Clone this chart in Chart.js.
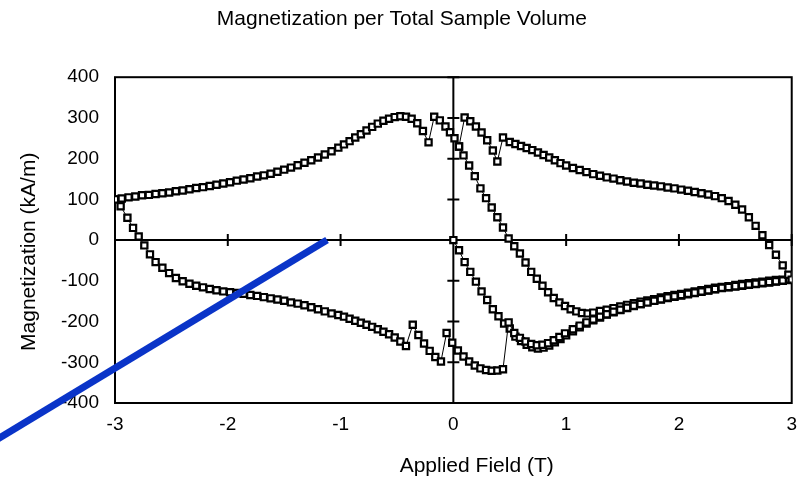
<!DOCTYPE html>
<html>
<head>
<meta charset="utf-8">
<script src="https://cdn.jsdelivr.net/npm/chart.js@4.4.1/dist/chart.umd.min.js"></script>
<style>
  html, body { margin: 0; padding: 0; background: #fff; }
  #wrap { width: 807px; height: 479px; }
</style>
</head>
<body>
<div id="wrap"><canvas id="c" width="807" height="479"></canvas></div>
<script>
// ---- Data (Applied Field in T, Magnetization in kA/m) ----
const upperBranch = [[-3.00,100],[-2.94,102],[-2.88,105],[-2.82,107],[-2.76,110],[-2.70,111],[-2.64,113],[-2.58,115],[-2.52,117],[-2.46,120],[-2.40,122],[-2.34,125],[-2.28,128],[-2.22,130],[-2.16,133],[-2.10,136],[-2.04,139],[-1.98,142],[-1.92,146],[-1.86,149],[-1.80,152],[-1.74,156],[-1.68,159],[-1.62,163],[-1.56,168],[-1.50,173],[-1.44,178],[-1.38,184],[-1.32,190],[-1.26,196],[-1.20,203],[-1.14,210],[-1.08,218],[-1.02,227],[-0.97,235],[-0.92,243],[-0.87,252],[-0.82,260],[-0.77,269],[-0.72,278],[-0.67,286],[-0.62,293],[-0.57,298],[-0.52,302],[-0.47,304],[-0.42,303],[-0.37,298],[-0.32,287],[-0.27,268],[-0.22,240],[-0.17,303],[-0.12,294],[-0.07,279],[-0.03,265],[0.01,250],[0.05,230],[0.10,301],[0.15,292],[0.20,279],[0.25,264],[0.30,245],[0.35,220],[0.39,193],[0.44,252],[0.50,241],[0.55,236],[0.60,231],[0.65,226],[0.70,221],[0.75,215],[0.80,209],[0.85,203],[0.90,196],[0.95,189],[1.00,183],[1.06,177],[1.12,172],[1.18,167],[1.24,162],[1.30,158],[1.36,154],[1.42,151],[1.48,147],[1.54,144],[1.60,141],[1.66,139],[1.72,136],[1.78,134],[1.84,132],[1.90,129],[1.96,127],[2.02,124],[2.08,121],[2.14,118],[2.20,115],[2.26,112],[2.32,108],[2.38,103],[2.44,96],[2.50,87],[2.56,75],[2.62,56],[2.68,35],[2.74,12],[2.80,-12],[2.86,-36],[2.92,-62],[2.97,-85],[3.00,-97]];

const lowerBranch = [[-3.00,100],[-2.95,83],[-2.89,55],[-2.84,30],[-2.79,9],[-2.74,-13],[-2.69,-35],[-2.64,-54],[-2.58,-68],[-2.52,-81],[-2.46,-93],[-2.40,-101],[-2.34,-107],[-2.28,-112],[-2.22,-116],[-2.16,-120],[-2.10,-123],[-2.04,-126],[-1.98,-128],[-1.92,-130],[-1.86,-132],[-1.80,-135],[-1.74,-137],[-1.68,-140],[-1.62,-143],[-1.56,-146],[-1.50,-149],[-1.44,-153],[-1.38,-156],[-1.32,-160],[-1.26,-165],[-1.20,-170],[-1.14,-175],[-1.08,-180],[-1.02,-184],[-0.97,-188],[-0.92,-193],[-0.87,-198],[-0.82,-203],[-0.77,-208],[-0.72,-213],[-0.67,-219],[-0.62,-225],[-0.57,-231],[-0.52,-239],[-0.47,-249],[-0.42,-260],[-0.36,-208],[-0.31,-233],[-0.26,-254],[-0.21,-272],[-0.16,-287],[-0.11,-298],[-0.06,-228],[-0.01,-252],[0.04,-271],[0.09,-286],[0.14,-298],[0.19,-308],[0.24,-315],[0.29,-319],[0.34,-321],[0.39,-320],[0.44,-317],[0.49,-202],[0.54,-228],[0.59,-240],[0.64,-249],[0.69,-255],[0.74,-258],[0.79,-257],[0.84,-253],[0.89,-246],[0.94,-238],[0.99,-229],[1.06,-219],[1.12,-210],[1.18,-202],[1.24,-195],[1.30,-188],[1.36,-182],[1.42,-176],[1.48,-171],[1.54,-166],[1.60,-161],[1.66,-157],[1.72,-153],[1.78,-149],[1.84,-145],[1.90,-141],[1.96,-138],[2.02,-135],[2.08,-132],[2.14,-129],[2.20,-126],[2.26,-123],[2.32,-120],[2.38,-117],[2.44,-115],[2.50,-113],[2.56,-111],[2.62,-109],[2.68,-107],[2.74,-105],[2.80,-103],[2.86,-101],[2.92,-99],[2.98,-97]];

const initialCurve = [[0.00,0],[0.05,-25],[0.10,-54],[0.15,-78],[0.20,-102],[0.25,-126],[0.30,-147],[0.35,-170],[0.40,-187],[0.45,-205],[0.50,-217],[0.55,-237],[0.60,-248],[0.65,-257],[0.70,-263],[0.75,-266],[0.80,-264],[0.85,-259],[0.90,-251],[0.95,-243],[1.00,-234],[1.06,-224],[1.12,-214],[1.18,-205],[1.24,-197],[1.30,-190],[1.36,-183],[1.42,-177],[1.48,-172],[1.54,-167],[1.60,-162],[1.66,-157],[1.72,-153],[1.78,-149],[1.84,-146],[1.90,-142],[1.96,-139],[2.02,-136],[2.08,-133],[2.14,-130],[2.20,-127],[2.26,-124],[2.32,-121],[2.38,-118],[2.44,-116],[2.50,-114],[2.56,-112],[2.62,-110],[2.68,-108],[2.74,-106],[2.80,-104],[2.86,-102],[2.92,-100],[2.98,-98]];

const returnCurve = [[0.05,230],[0.09,208],[0.14,183],[0.19,157],[0.24,127],[0.29,103],[0.34,80],[0.39,56],[0.44,31],[0.49,4],[0.54,-15],[0.59,-33],[0.64,-55],[0.69,-78],[0.74,-95],[0.79,-112],[0.84,-128],[0.89,-142],[0.94,-153],[0.99,-162],[1.04,-170],[1.09,-175],[1.14,-179],[1.19,-180],[1.24,-178],[1.30,-174],[1.36,-171],[1.42,-167],[1.48,-163],[1.54,-159],[1.60,-155],[1.66,-151],[1.72,-148],[1.78,-145],[1.84,-141],[1.90,-138],[1.96,-135],[2.02,-132],[2.08,-129],[2.14,-126],[2.20,-123],[2.26,-120],[2.32,-117],[2.38,-115],[2.44,-113],[2.50,-110],[2.56,-108],[2.62,-106],[2.68,-104],[2.74,-102],[2.80,-100],[2.86,-98],[2.92,-97],[2.98,-95]];

const blueLine = [[-1.12,0],[-4.2,-515]];

const xTicks = [-3,-2,-1,0,1,2,3];
const yTicks = [-400,-300,-200,-100,0,100,200,300,400];

// ---- Helpers ----
const toXY = arr => arr.map(p => ({x: p[0], y: p[1]}));
const FONT = "'Liberation Sans', Arial, sans-serif";

function markerSet(data) {
  return {
    data: toXY(data),
    showLine: true,
    borderColor: '#000',
    borderWidth: 1,
    pointStyle: 'rect',
    pointRadius: 4.4,
    pointBorderWidth: 2.2,
    pointBorderColor: '#000',
    pointBackgroundColor: '#fff',
    pointHoverRadius: 4.4,
    tension: 0,
    order: 1
  };
}

const crossAxes = {
  id: 'crossAxes',
  beforeDatasetsDraw(chart) {
    const {ctx, chartArea: a, scales: {x, y}} = chart;
    const x0 = x.getPixelForValue(0), y0 = y.getPixelForValue(0);
    ctx.save();
    ctx.strokeStyle = '#000';
    ctx.lineWidth = 2;
    ctx.beginPath();
    ctx.moveTo(a.left, y0); ctx.lineTo(a.right, y0);
    ctx.moveTo(x0, a.top); ctx.lineTo(x0, a.bottom);
    x.ticks.forEach(t => {
      const px = x.getPixelForValue(t.value);
      ctx.moveTo(px, y0 - 6); ctx.lineTo(px, y0 + 6);
    });
    y.ticks.forEach(t => {
      const py = y.getPixelForValue(t.value);
      ctx.moveTo(x0 - 6, py); ctx.lineTo(x0 + 6, py);
    });
    ctx.stroke();
    ctx.strokeRect(a.left, a.top, a.right - a.left, a.bottom - a.top);
    ctx.restore();
  }
};

new Chart(document.getElementById('c'), {
  type: 'scatter',
  data: {
    datasets: [
      {
        data: toXY(blueLine),
        showLine: true,
        borderColor: '#0a34c8',
        borderWidth: 7,
        pointRadius: 0,
        pointHoverRadius: 0,
        clip: false,
        order: 0
      },
      markerSet(upperBranch),
      markerSet(lowerBranch),
      markerSet(initialCurve),
      markerSet(returnCurve)
    ]
  },
  options: {
    responsive: false,
    devicePixelRatio: 1,
    animation: false,
    events: [],
    layout: { padding: { left: 0, right: 15, top: 0, bottom: 0 } },
    plugins: {
      legend: { display: false },
      tooltip: { enabled: false },
      title: {
        display: true,
        text: '  Magnetization per Total Sample Volume',
        color: '#000',
        font: { family: FONT, size: 21, weight: 'normal' },
        padding: { top: 7, bottom: 45 }
      }
    },
    scales: {
      x: {
        type: 'linear',
        min: -3, max: 3,
        afterBuildTicks: s => { s.ticks = xTicks.map(v => ({value: v})); },
        ticks: { color: '#000', font: { family: FONT, size: 19 }, padding: 10, maxRotation: 0 },
        grid: { display: false, drawTicks: false },
        border: { display: false },
        title: {
          display: true, text: '        Applied Field (T)', color: '#000',
          font: { family: FONT, size: 21 }, padding: { top: 0, bottom: 0 }
        },
        afterFit: s => { s.height = 76; }
      },
      y: {
        type: 'linear',
        min: -400, max: 400,
        afterBuildTicks: s => { s.ticks = yTicks.map(v => ({value: v})); },
        ticks: { color: '#000', font: { family: FONT, size: 19 }, padding: 16 },
        grid: { display: false, drawTicks: false },
        border: { display: false },
        title: {
          display: true, text: 'Magnetization (kA/m)    ', color: '#000',
          font: { family: FONT, size: 21 }, padding: { top: 17, bottom: 0 }
        },
        afterFit: s => { s.width = 115; }
      }
    }
  },
  plugins: [crossAxes]
});
</script>
</body>
</html>
